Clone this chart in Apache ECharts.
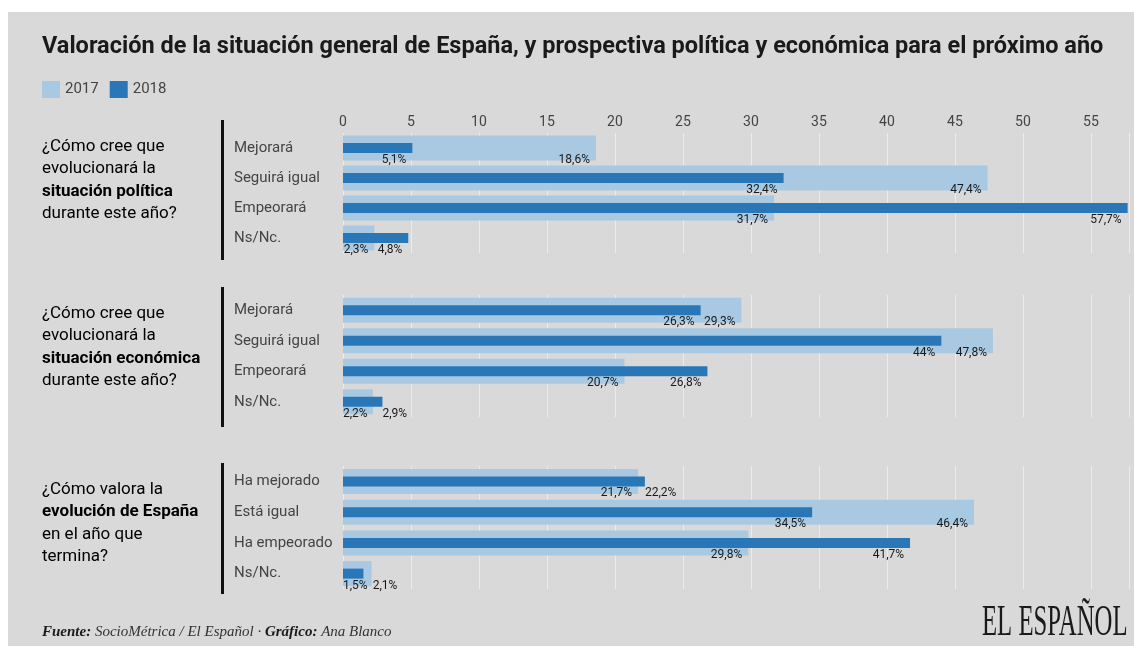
<!DOCTYPE html>
<html>
<head>
<meta charset="utf-8">
<script src="https://cdn.jsdelivr.net/npm/echarts@6/dist/echarts.min.js"></script>
<style>html,body{margin:0;padding:0;background:#fff}#c{width:1134px;height:646px}</style>
</head>
<body>
<div id="c"></div>
<script>
// ---- data ----
const categoriesPrevision = ['Mejorará', 'Seguirá igual', 'Empeorará', 'Ns/Nc.'];
const categoriesEvolucion = ['Ha mejorado', 'Está igual', 'Ha empeorado', 'Ns/Nc.'];
const seriesNames = ['2017', '2018'];
const politica2017 = [18.6, 47.4, 31.7, 2.3];
const politica2018 = [5.1, 32.4, 57.7, 4.8];
const economica2017 = [29.3, 47.8, 20.7, 2.2];
const economica2018 = [26.3, 44, 26.8, 2.9];
const evolucion2017 = [21.7, 46.4, 29.8, 2.1];
const evolucion2018 = [22.2, 34.5, 41.7, 1.5];
const axisMax = 57.8;
const axisStep = 5;

// ---- styling / layout ----
const LIGHT = '#a8c9e1';
const DARK = '#2a77b8';
const BG = '#d9d9d9';
const groups = [
  { cats: categoriesPrevision, d17: politica2017, d18: politica2018, top: 133, height: 120 },
  { cats: categoriesPrevision, d17: economica2017, d18: economica2018, top: 295, height: 122 },
  { cats: categoriesEvolucion, d17: evolucion2017, d18: evolucion2018, top: 466, height: 123 }
];
const GRID_LEFT = 343, GRID_RIGHT = 5;
const LABEL_FONT = '12px Roboto';
const PAD = 6, GAP = 5;

const ctx = document.createElement('canvas').getContext('2d');
ctx.font = LABEL_FONT;
const measure = t => ctx.measureText(t).width;
const fmt = v => String(v).replace('.', ',') + '%';

function makeLayout(g, s) {
  return function (p) {
    const i = p.dataIndex;
    const v = [groups[g].d17[i], groups[g].d18[i]];
    const k = p.rect.width / v[s];
    const x0 = p.rect.x;
    const ends = [x0 + v[0] * k, x0 + v[1] * k];
    const ws = [measure(fmt(v[0])), measure(fmt(v[1]))];
    const small = v[0] <= v[1] ? 0 : 1, big = 1 - small;
    const nat = j => Math.max(x0, ends[j] - PAD - ws[j]);
    const sL = nat(small);
    let bL = nat(big);
    if (bL < sL + ws[small] + GAP) bL = Math.max(ends[big], sL + ws[small] + GAP);
    return {
      x: s === small ? sL : bL,
      y: p.rect.y + p.rect.height / 2 + 6,
      align: 'left',
      verticalAlign: 'top'
    };
  };
}

const grid = [], xAxis = [], yAxis = [], series = [];
groups.forEach((gr, g) => {
  grid.push({ left: GRID_LEFT, right: GRID_RIGHT, top: gr.top, height: gr.height, containLabel: false });
  xAxis.push({
    type: 'value', gridIndex: g, min: 0, max: axisMax, interval: axisStep,
    position: 'top',
    axisLine: { show: false }, axisTick: { show: false },
    axisLabel: { show: g === 0, color: '#444', fontSize: 14, fontFamily: 'Roboto', margin: 4, showMaxLabel: false },
    splitLine: { show: true, lineStyle: { color: 'rgba(255,255,255,0.5)', width: 1 } }
  });
  yAxis.push({
    type: 'category', gridIndex: g, data: gr.cats, inverse: true,
    axisLine: { show: false }, axisTick: { show: false },
    axisLabel: { align: 'left', margin: 109, color: '#444', fontSize: 15, fontFamily: 'Roboto' }
  });
  yAxis.push({ type: 'category', gridIndex: g, data: gr.cats, inverse: true, show: false });
  const lbl = { show: true, formatter: p => fmt(p.value), fontSize: 12, fontFamily: 'Roboto', color: '#1a1a1a' };
  series.push({
    name: seriesNames[0], type: 'bar', xAxisIndex: g, yAxisIndex: 2 * g, data: gr.d17,
    barWidth: 25, itemStyle: { color: LIGHT }, z: 2, label: lbl, labelLayout: makeLayout(g, 0)
  });
  series.push({
    name: seriesNames[1], type: 'bar', xAxisIndex: g, yAxisIndex: 2 * g + 1, data: gr.d18,
    barWidth: 10, itemStyle: { color: DARK }, z: 3, label: lbl, labelLayout: makeLayout(g, 1)
  });
});

const qRich = {
  n: { fontSize: 17, fontFamily: 'Roboto', color: '#333', lineHeight: 22.5 },
  b: { fontSize: 17, fontFamily: 'Roboto', color: '#1a1a1a', fontWeight: 'bold', lineHeight: 22.5 }
};
const questions = [
  { top: 138, text: '{n|¿Cómo cree que}\n{n|evolucionará la}\n{b|situación política}\n{n|durante este año?}' },
  { top: 305, text: '{n|¿Cómo cree que}\n{n|evolucionará la}\n{b|situación económica}\n{n|durante este año?}' },
  { top: 481, text: '{n|¿Cómo valora la}\n{b|evolución de España}\n{n|en el año que}\n{n|termina?}' }
];
const bars = [[120, 260], [287, 427], [463, 594]];

const graphic = [
  { type: 'rect', left: 8, top: 12, shape: { width: 1126, height: 634 }, style: { fill: BG }, z: -10, silent: true }
];
bars.forEach(b => graphic.push({ type: 'rect', left: 221, top: b[0], shape: { width: 3, height: b[1] - b[0] }, style: { fill: '#111' } }));
questions.forEach(q => graphic.push({ type: 'text', left: 42, top: q.top, style: { text: q.text, rich: qRich } }));
graphic.push({
  type: 'text', left: 42, top: 625,
  style: {
    text: '{b|Fuente:}{i| SocioMétrica / El Español · }{b|Gráfico:}{i| Ana Blanco}',
    rich: {
      b: { fontFamily: 'Liberation Serif', fontStyle: 'italic', fontWeight: 'bold', fontSize: 15, fill: '#1a1a1a' },
      i: { fontFamily: 'Liberation Serif', fontStyle: 'italic', fontSize: 15, fill: '#333' }
    }
  }
});
graphic.push({
  type: 'text', x: 982, y: 646, scaleX: 0.55,
  style: { text: 'EL ESPAÑOL', font: '45px "Liberation Serif"', fill: '#1a1a1a', verticalAlign: 'bottom' }
});

const chart = echarts.init(document.getElementById('c'), null, { renderer: 'canvas' });
chart.setOption({
  backgroundColor: '#ffffff',
  animation: false,
  title: {
    text: 'Valoración de la situación general de España, y prospectiva política y económica para el próximo año',
    left: 42, top: 35, padding: 0,
    textStyle: { fontFamily: 'Roboto', fontWeight: 'bold', fontSize: 23.5, color: '#1a1a1a' }
  },
  legend: {
    data: seriesNames, left: 42, top: 81, padding: 0, icon: 'rect', itemWidth: 18, itemHeight: 17, itemGap: 11,
    textStyle: { fontFamily: 'Roboto', fontSize: 15, color: '#444' }
  },
  grid, xAxis, yAxis, series, graphic
});
</script>
</body>
</html>
